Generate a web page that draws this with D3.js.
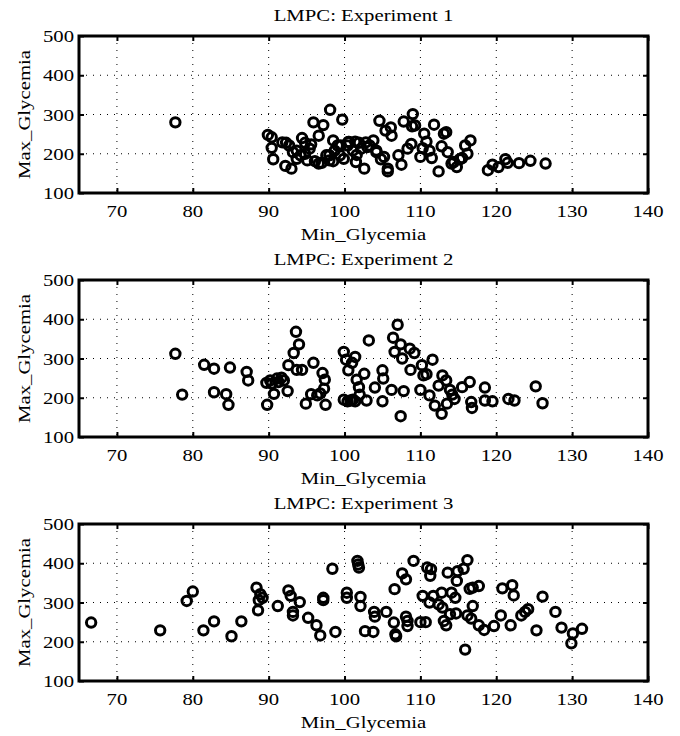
<!DOCTYPE html>
<html lang='en'>
<head>
<meta charset='utf-8'>
<title>LMPC experiments</title>
<script src='https://cdnjs.cloudflare.com/ajax/libs/d3/7.8.5/d3.min.js'></script>
<style>
body {
   margin:0;
   background:white;
}
</style>
</head>
<body>
<script>
// values
var titles = ['LMPC: Experiment 1', 'LMPC: Experiment 2', 'LMPC: Experiment 3'];
var xTicks = [70, 80, 90, 100, 110, 120, 130, 140];
var yTicks = [100, 200, 300, 400, 500];

var minGly1 = [77.7, 89.9, 90.4, 90.4, 90.6, 91.8, 92.3, 92.7, 92.2, 93.0, 93.2, 93.7, 94.4, 94.8, 95.1, 95.4, 95.6, 95.9, 96.6, 97.2,
   97.0, 97.6, 98.0, 98.1, 98.5, 98.7, 99.1, 99.4, 99.7, 99.9, 100.4, 100.6, 101.1, 101.4, 101.5, 101.9, 102.2, 102.6, 102.8, 103.3,
   103.8, 104.2, 104.6, 104.8, 105.2, 105.4, 105.7, 105.7, 106.1, 106.2, 107.1, 107.5, 107.8, 108.3, 108.8, 109.0, 108.9, 109.3, 110.0, 110.3,
   110.5, 110.8, 111.2, 111.5, 111.8, 112.4, 112.8, 113.1, 113.4, 113.6, 114.1, 114.4, 114.8, 115.2, 115.5, 115.9, 116.2, 116.6, 118.9, 119.5,
   120.3, 121.2, 121.5, 123.0, 124.5, 126.5, 93.7, 94.2, 94.8, 96.1, 96.6, 98.0, 98.5, 99.5, 100.5, 101.6, 103.0, 104.2];
var maxGly1 = [280, 248, 242, 215, 186, 229, 228, 221, 169, 162, 204, 187, 240, 228, 183, 213, 224, 280, 246, 273,
   177, 196, 183, 312, 234, 208, 221, 196, 287, 187, 221, 230, 208, 231, 179, 228, 213, 162, 229, 221,
   234, 204, 284, 186, 192, 259, 162, 155, 267, 246, 196, 172, 282, 213, 225, 301, 270, 272, 192, 214,
   251, 231, 208, 189, 274, 155, 219, 251, 255, 204, 175, 179, 166, 186, 189, 221, 200, 234, 158, 172,
   166, 186, 177, 176, 182, 175, 208, 196, 200, 181, 175, 196, 181, 221, 230, 197, 217, 208];

var minGly2 = [77.7, 78.6, 81.5, 82.8, 82.8, 84.9, 84.4, 84.7, 87.1, 87.3, 89.7, 89.8, 90.2, 90.4, 90.7, 91.1, 91.3, 91.7, 92.0, 92.5,
   92.6, 93.3, 93.6, 94.0, 93.7, 94.4, 94.9, 95.9, 95.6, 96.4, 97.1, 97.4, 97.3, 97.5, 96.8, 99.9, 100.2, 100.5, 99.9, 100.4,
   100.8, 101.1, 101.4, 101.4, 101.0, 101.6, 101.9, 102.0, 102.6, 102.9, 103.2, 104.0, 105.0, 105.1, 105.0, 106.2, 106.4, 107.0, 106.6, 107.4,
   107.6, 107.8, 107.4, 108.6, 109.2, 108.7, 110.0, 110.2, 110.4, 110.8, 111.2, 111.6, 111.9, 112.4, 112.9, 112.8, 113.4, 113.5, 113.9, 114.2,
   114.5, 115.5, 116.5, 116.7, 116.8, 118.5, 118.5, 119.5, 121.6, 122.4, 125.2, 126.1];
var maxGly2 = [312, 208, 284, 274, 214, 277, 209, 182, 266, 244, 238, 182, 244, 236, 210, 249, 240, 251, 244, 217,
   283, 314, 368, 336, 271, 271, 185, 289, 209, 206, 263, 246, 223, 182, 211, 317, 297, 270, 195, 191,
   193, 195, 191, 304, 289, 246, 227, 208, 261, 193, 346, 226, 270, 249, 191, 220, 353, 386, 317, 336,
   300, 217, 153, 325, 314, 271, 220, 283, 257, 260, 206, 297, 180, 231, 257, 159, 244, 185, 220, 208,
   197, 227, 240, 189, 174, 226, 193, 191, 197, 193, 229, 186];

var minGly3 = [66.6, 75.7, 79.2, 80.0, 81.4, 82.8, 85.1, 86.4, 88.4, 88.9, 89.2, 88.7, 88.6, 91.2, 92.6, 92.9, 94.1, 93.2, 93.2, 95.2,
   96.3, 96.8, 97.2, 97.2, 98.4, 98.8, 100.3, 100.3, 101.7, 101.9, 101.8, 102.1, 102.1, 102.7, 103.8, 103.9, 104.0, 105.5, 106.5, 106.6,
   106.8, 106.7, 107.6, 108.1, 108.1, 108.3, 108.3, 109.1, 110.0, 110.7, 110.3, 110.9, 111.4, 111.3, 111.2, 111.7, 112.8, 112.4, 112.9, 113.1,
   113.4, 113.6, 113.9, 114.1, 114.6, 114.8, 114.7, 114.9, 115.7, 116.2, 115.9, 116.5, 116.2, 116.9, 116.9, 117.7, 116.7, 117.7, 118.4, 119.7,
   120.6, 120.8, 122.1, 122.3, 121.9, 123.3, 123.8, 124.2, 125.3, 126.1, 127.8, 128.6, 129.9, 130.1, 131.3];
var maxGly3 = [249, 229, 304, 328, 229, 252, 214, 252, 338, 321, 312, 306, 280, 291, 331, 317, 301, 276, 267, 261,
   242, 216, 312, 306, 386, 225, 325, 312, 406, 389, 397, 314, 291, 227, 225, 276, 264, 276, 249, 334,
   214, 219, 374, 359, 264, 240, 253, 406, 250, 250, 317, 389, 385, 368, 300, 317, 325, 295, 287, 253,
   242, 376, 270, 325, 312, 355, 272, 380, 386, 408, 180, 335, 267, 291, 338, 342, 259, 242, 230, 240,
   267, 336, 344, 318, 242, 267, 276, 283, 229, 315, 276, 236, 196, 221, 233];

var experiments = [
   {x : minGly1, y : maxGly1},
   {x : minGly2, y : maxGly2},
   {x : minGly3, y : maxGly3}
];

var W = 680, H = 736;
var plotL = 79, plotR = 648, plotH = 157;
var plotTops = [36, 280, 524];
var stretch = 1.22;   // text in the picture is widened
var fontFam = "'Liberation Serif', 'Times New Roman', Tinos, 'DejaVu Serif', serif";

var svg = d3.select('body').append('svg')
   .attr('width', W).attr('height', H);

var xScale = d3.scaleLinear().domain([65, 140]).range([plotL, plotR]);

function addText(g, x, y, str, rot, anchor) {
   var t = rot ? 'translate(' + x + ',' + y + ') rotate(-90) scale(' + stretch + ',1)'
               : 'translate(' + x + ',' + y + ') scale(' + stretch + ',1)';
   g.append('text')
      .attr('transform', t)
      .attr('text-anchor', anchor || 'middle')
      .attr('font-family', fontFam)
      .attr('font-size', 17)
      .attr('fill', '#000')
      .text(str);
}

experiments.forEach(function(exp, k) {
   var top = plotTops[k];
   var yScale = d3.scaleLinear().domain([100, 500]).range([top + plotH, top]);
   var g = svg.append('g');

   // dotted grid
   g.append('g').selectAll('line').data(xTicks.filter(function(d){return d < 140;}))
      .enter().append('line')
      .attr('x1', function(d){return xScale(d);}).attr('x2', function(d){return xScale(d);})
      .attr('y1', top).attr('y2', top + plotH)
      .style('stroke', '#000').style('stroke-width', 1).style('stroke-dasharray', '1,6');
   g.append('g').selectAll('line').data(yTicks.filter(function(d){return d > 100 && d < 500;}))
      .enter().append('line')
      .attr('y1', function(d){return yScale(d);}).attr('y2', function(d){return yScale(d);})
      .attr('x1', plotL).attr('x2', plotR)
      .style('stroke', '#000').style('stroke-width', 1).style('stroke-dasharray', '1,6');

   // inward ticks on all four sides
   var xb = d3.axisBottom(xScale).tickValues(xTicks).tickSize(-5).tickFormat('');
   var xt = d3.axisTop(xScale).tickValues(xTicks).tickSize(-5).tickFormat('');
   var yl = d3.axisLeft(yScale).tickValues(yTicks).tickSize(-5).tickFormat('');
   var yr = d3.axisRight(yScale).tickValues(yTicks).tickSize(-5).tickFormat('');
   [[xb, 'translate(0,' + (top + plotH) + ')'], [xt, 'translate(0,' + top + ')'],
    [yl, 'translate(' + plotL + ',0)'], [yr, 'translate(' + plotR + ',0)']].forEach(function(a) {
      var ax = g.append('g').attr('transform', a[1]).call(a[0]);
      ax.select('.domain').remove();
      ax.selectAll('line').style('stroke', '#000').style('stroke-width', 2);
   });

   // tick labels
   xTicks.forEach(function(v) {
      addText(g, xScale(v), top + plotH + 24, String(v));
   });
   yTicks.forEach(function(v) {
      addText(g, plotL - 5, yScale(v) + 6, String(v), false, 'end');
   });

   // circles
   g.append('g').selectAll('circle')
      .data(d3.range(exp.x.length))
      .enter().append('circle')
      .attr('cx', function(i){return xScale(exp.x[i]);})
      .attr('cy', function(i){return yScale(exp.y[i]);})
      .attr('r', 4.7)
      .style('fill', 'none').style('stroke', '#000').style('stroke-width', 3);

   // frame
   g.append('rect')
      .attr('x', plotL).attr('y', top).attr('width', plotR - plotL).attr('height', plotH)
      .style('fill', 'none').style('stroke', '#000').style('stroke-width', 3);

   addText(g, (plotL + plotR) / 2, top - 15, titles[k]);
   addText(g, (plotL + plotR) / 2, top + plotH + 47, 'Min_Glycemia');
   addText(g, 30, top + plotH / 2, 'Max_Glycemia', true);
});
</script>
</body>
</html>
